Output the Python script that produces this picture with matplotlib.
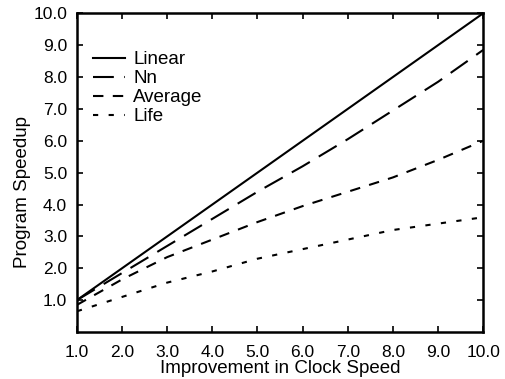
import numpy as np
import matplotlib.pyplot as plt

# --------------------------- DATA ---------------------------

clock = [1, 2, 3, 4, 5, 6, 7, 8, 9, 10]
linear = [1.0, 2.0, 3.0, 4.0, 5.0, 6.0, 7.0, 8.0, 9.0, 10.0]
nn = [1.0, 1.85, 2.7, 3.55, 4.4, 5.2, 6.05, 6.95, 7.85, 8.85]
average = [0.85, 1.65, 2.35, 2.9, 3.45, 3.95, 4.4, 4.85, 5.4, 6.0]
life = [0.65, 1.1, 1.55, 1.9, 2.3, 2.6, 2.9, 3.2, 3.4, 3.6]

x_ticks = [1, 2, 3, 4, 5, 6, 7, 8, 9, 10]
y_ticks = [1, 2, 3, 4, 5, 6, 7, 8, 9, 10]

# --------------------------- PLOT ---------------------------

plt.rcParams['font.family'] = ['Liberation Sans', 'DejaVu Sans']

fig = plt.figure(figsize=(5.06, 3.79), dpi=100)
ax = fig.add_axes([0.152, 0.124, 0.803, 0.841])

ax.plot(clock, linear, color='black', lw=1.5, ls='-', label='Linear')
ax.plot(clock, nn, color='black', lw=1.5, ls=(0, (10, 5)), label='Nn')
ax.plot(clock, average, color='black', lw=1.5, ls=(0, (5, 4.5)), label='Average')
ax.plot(clock, life, color='black', lw=1.5, ls=(0, (2.5, 5)), label='Life')

ax.set_xlim(1, 10)
ax.set_ylim(0, 10)
ax.set_xticks(x_ticks)
ax.set_yticks(y_ticks)
ax.set_xticklabels(['%.1f' % v for v in x_ticks])
ax.set_yticklabels(['%.1f' % v for v in y_ticks])
ax.tick_params(direction='in', top=True, right=True, length=4, width=1.2,
               labelsize=12.5)
ax.tick_params(axis='x', pad=9)
ax.tick_params(axis='y', pad=7)
for s in ax.spines.values():
    s.set_linewidth(1.8)

ax.set_xlabel('Improvement in Clock Speed', fontsize=13.5, labelpad=0)
ax.set_ylabel('Program Speedup', fontsize=13.5)
ax.yaxis.set_label_coords(-0.112, 0.44)

ax.legend(loc='upper left', frameon=False, fontsize=13.5, handlelength=1.75,
          handletextpad=0.43, labelspacing=0.1, borderaxespad=0,
          bbox_to_anchor=(0.02, 0.905))

fig.savefig('out.png', dpi=100)
